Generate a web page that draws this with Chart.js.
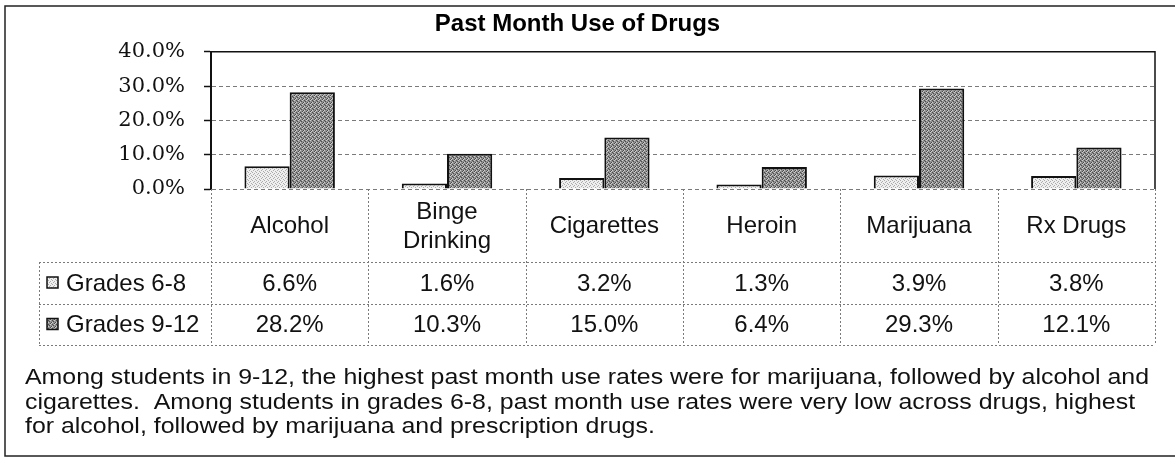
<!DOCTYPE html>
<html>
<head>
<meta charset="utf-8">
<script src="https://cdn.jsdelivr.net/npm/chart.js@4.4.1/dist/chart.umd.min.js"></script>
<style>
  body { margin: 0; background: #fff; }
  #wrap { width: 1175px; height: 457px; }
</style>
</head>
<body>
<div id="wrap"><canvas id="chart" width="1175" height="457"></canvas></div>
<script>
var categories = ['Alcohol', ['Binge', 'Drinking'], 'Cigarettes', 'Heroin', 'Marijuana', 'Rx Drugs'];
var seriesNames = ['Grades 6-8', 'Grades 9-12'];
var grades68 = [6.6, 1.6, 3.2, 1.3, 3.9, 3.8];
var grades912 = [28.2, 10.3, 15.0, 6.4, 29.3, 12.1];
var yTicks = [0, 10, 20, 30, 40];
var noteLines = [
    'Among students in 9-12, the highest past month use rates were for marijuana, followed by alcohol and',
    'cigarettes.  Among students in grades 6-8, past month use rates were very low across drugs, highest',
    'for alcohol, followed by marijuana and prescription drugs.'
];

var SANS = '"Liberation Sans", Arial, sans-serif';

// small fixed stipple so the bars look like the scanned print
function makePattern(bg, colors, map) {
    var c = document.createElement('canvas');
    c.width = 4;
    c.height = 4;
    var g = c.getContext('2d');
    g.fillStyle = bg;
    g.fillRect(0, 0, 4, 4);
    for (var y = 0; y < 4; y++) {
        for (var x = 0; x < 4; x++) {
            var v = map[y][x];
            if (v) {
                g.fillStyle = colors[v - 1];
                g.fillRect(x, y, 1, 1);
            }
        }
    }
    return g.createPattern(c, 'repeat');
}

var lightFill = makePattern('#efefef', ['#acacac'], [[1,0,0,0],[0,0,1,0],[0,1,0,0],[0,0,0,1]]);
var darkFill = makePattern('#939393', ['#4c4c4c', '#cdcdcd'], [[1,0,2,0],[0,1,0,0],[2,0,0,1],[0,0,1,2]]);
var fills = [lightFill, darkFill];

var tablePlugin = {
    id: 'tablePlugin',
    afterDraw: function(chart) {
        var ctx = chart.ctx;
        var area = chart.chartArea;
        var xs = chart.scales.x;
        var n = categories.length;
        var colW = (area.right - area.left) / n;
        var top = area.bottom;
        var row1 = top + 73;
        var row2 = row1 + 42;
        var row3 = row2 + 41;
        var legendLeft = 39;
        var rows = [grades68, grades912];

        ctx.save();

        // plot frame: solid top and right
        ctx.strokeStyle = '#111';
        ctx.lineWidth = 1.5;
        ctx.beginPath();
        ctx.moveTo(area.left, area.top);
        ctx.lineTo(area.right, area.top);
        ctx.lineTo(area.right, area.bottom);
        ctx.stroke();

        // table grid
        ctx.strokeStyle = '#7a7a7a';
        ctx.lineWidth = 1;
        ctx.setLineDash([2, 2]);
        ctx.beginPath();
        for (var i = 0; i <= n; i++) {
            var bx = Math.round(area.left + i * colW) + 0.5;
            ctx.moveTo(bx, top);
            ctx.lineTo(bx, row3);
        }
        ctx.moveTo(legendLeft + 0.5, row1);
        ctx.lineTo(legendLeft + 0.5, row3);
        [row1, row2, row3].forEach(function(yy) {
            ctx.moveTo(legendLeft, yy + 0.5);
            ctx.lineTo(area.right, yy + 0.5);
        });
        ctx.stroke();
        ctx.setLineDash([]);

        // category labels and values
        ctx.fillStyle = '#111';
        ctx.font = '24px ' + SANS;
        ctx.textAlign = 'center';
        ctx.textBaseline = 'middle';
        for (var j = 0; j < n; j++) {
            var cx = xs.getPixelForValue(j);
            var lab = categories[j];
            var midY = (top + row1) / 2 + 1;
            if (Array.isArray(lab)) {
                var lh = 28.8;
                for (var k = 0; k < lab.length; k++) {
                    ctx.fillText(lab[k], cx, midY + (k - (lab.length - 1) / 2) * lh);
                }
            } else {
                ctx.fillText(lab, cx, midY);
            }
            ctx.fillText(rows[0][j].toFixed(1) + '%', cx, (row1 + row2) / 2 + 1);
            ctx.fillText(rows[1][j].toFixed(1) + '%', cx, (row2 + row3) / 2 + 1);
        }

        // legend column
        var rowMids = [(row1 + row2) / 2, (row2 + row3) / 2];
        ctx.textAlign = 'left';
        for (var s = 0; s < seriesNames.length; s++) {
            var my = rowMids[s];
            ctx.fillStyle = fills[s];
            ctx.fillRect(47, my - 6, 11, 11);
            ctx.strokeStyle = '#111';
            ctx.lineWidth = 1.5;
            ctx.strokeRect(47, my - 6, 11, 11);
            ctx.fillStyle = '#111';
            ctx.fillText(seriesNames[s], 66, my + 1);
        }

        // note under the chart
        ctx.font = '22px ' + SANS;
        ctx.textBaseline = 'alphabetic';
        var sx = 1124 / ctx.measureText(noteLines[0]).width;
        for (var L = 0; L < noteLines.length; L++) {
            ctx.save();
            ctx.translate(25, 384 + L * 24.5);
            ctx.scale(sx, 1);
            ctx.fillText(noteLines[L], 0, 0);
            ctx.restore();
        }

        // outer box
        ctx.strokeStyle = '#222';
        ctx.lineWidth = 1.5;
        ctx.strokeRect(5, 6, 1185, 450);

        ctx.restore();
    }
};

var ctx = document.getElementById('chart').getContext('2d');
new Chart(ctx, {
    type: 'bar',
    data: {
        labels: categories,
        datasets: [{
            label: seriesNames[0],
            data: grades68,
            backgroundColor: lightFill,
            borderColor: '#111',
            borderWidth: 2
        }, {
            label: seriesNames[1],
            data: grades912,
            backgroundColor: darkFill,
            borderColor: '#111',
            borderWidth: 2
        }]
    },
    options: {
        responsive: false,
        animation: false,
        devicePixelRatio: 1,
        layout: { padding: { left: 0, right: 20, top: 0, bottom: 268 } },
        datasets: {
            bar: { categoryPercentage: 0.575, barPercentage: 1 }
        },
        plugins: {
            legend: { display: false },
            tooltip: { enabled: false },
            title: {
                display: true,
                text: 'Past Month Use of Drugs',
                color: '#000',
                font: { family: SANS, size: 24, weight: 'bold', lineHeight: 1.2 },
                padding: { top: 10, bottom: 13 }
            }
        },
        scales: {
            x: { display: false },
            y: {
                min: 0,
                max: 40,
                afterFit: function(scale) { scale.width = 211; },
                afterBuildTicks: function(scale) {
                    scale.ticks = yTicks.map(function(v) { return { value: v }; });
                },
                ticks: {
                    color: '#111',
                    padding: 19,
                    font: { family: '"DejaVu Serif", "Liberation Serif", serif', size: 21 },
                    callback: function(v) { return v.toFixed(1) + '%'; }
                },
                grid: {
                    color: '#7a7a7a',
                    lineWidth: 1,
                    tickColor: '#111',
                    tickLength: 7,
                    tickWidth: 1.5
                },
                border: { color: '#111', width: 2, dash: [4, 3] }
            }
        }
    },
    plugins: [tablePlugin]
});
</script>
</body>
</html>
